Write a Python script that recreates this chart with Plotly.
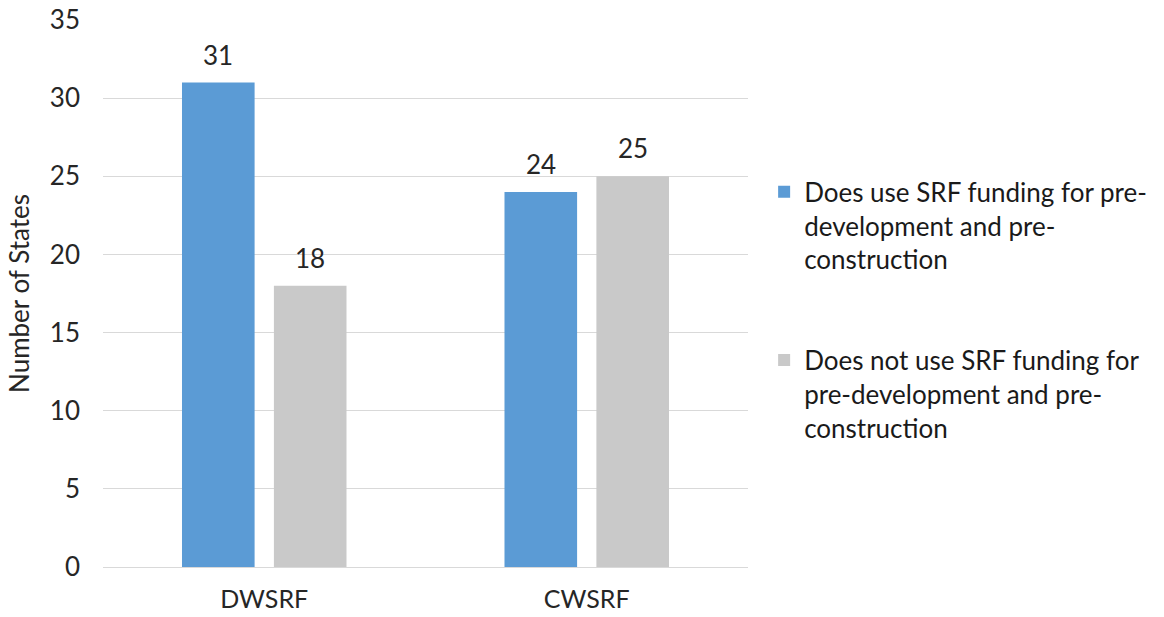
import plotly.graph_objects as go

categories = ["DWSRF", "CWSRF"]
uses_srf = [31, 24]
does_not_use_srf = [18, 25]
series_names = [
    "Does use SRF funding for pre-<br>development and pre-<br>construction",
    "Does not use SRF funding for<br>pre-development and pre-<br>construction",
]
colors = ["#5b9bd5", "#c9c9c9"]

FONT = "Lato"
TEXT_COLOR = "#262626"

W, H = 1164, 617
M_L, M_R, M_T, M_B = 103, 414, 20, 50
BARGAP, BARGROUPGAP = 0.43, 0.21

fig = go.Figure()
series = [uses_srf, does_not_use_srf]
for i, (name, vals) in enumerate(zip(series_names, series)):
    fig.add_trace(go.Bar(
        x=categories, y=vals, name=name,
        marker=dict(color=colors[i], line=dict(width=0)),
        legendgroup=f"g{i}",
    ))

# value labels sit above each bar, centred on its slot within the group
plot_w = W - M_L - M_R
slot_w = plot_w / len(categories) * (1 - BARGAP) / len(series)
for i, vals in enumerate(series):
    shift = (i - (len(series) - 1) / 2) * slot_w
    for cat, v in zip(categories, vals):
        fig.add_annotation(
            x=cat, y=v, text=str(v), showarrow=False,
            xshift=shift, yanchor="bottom", yshift=10,
            font=dict(family=FONT, size=26, color=TEXT_COLOR),
        )

fig.update_layout(
    width=W, height=H,
    margin=dict(l=M_L, r=M_R, t=M_T, b=M_B),
    paper_bgcolor="white", plot_bgcolor="white",
    barmode="group", bargap=BARGAP, bargroupgap=BARGROUPGAP,
    font=dict(family=FONT, size=26, color=TEXT_COLOR),
    legend=dict(
        x=1.025, y=0.729, xanchor="left", yanchor="top",
        font=dict(family=FONT, size=26, color="#1a1a1a"),
        valign="top", tracegroupgap=64, itemwidth=30,
    ),
    xaxis=dict(showgrid=False, showline=False, ticks="", automargin=False,
               ticklabelstandoff=15,
               tickfont=dict(family=FONT, size=25, color=TEXT_COLOR)),
    yaxis=dict(range=[0, 35], dtick=5, showgrid=True, gridcolor="#d9d9d9",
               gridwidth=1, zeroline=True, zerolinecolor="#d9d9d9",
               zerolinewidth=1, ticks="", ticklen=0, ticklabelstandoff=22,
               automargin=False,
               tickfont=dict(family=FONT, size=26, color=TEXT_COLOR),
               title=dict(text="Number of States",
                          font=dict(family=FONT, size=26, color=TEXT_COLOR),
                          standoff=12)),
)

fig.write_html("out.html")
